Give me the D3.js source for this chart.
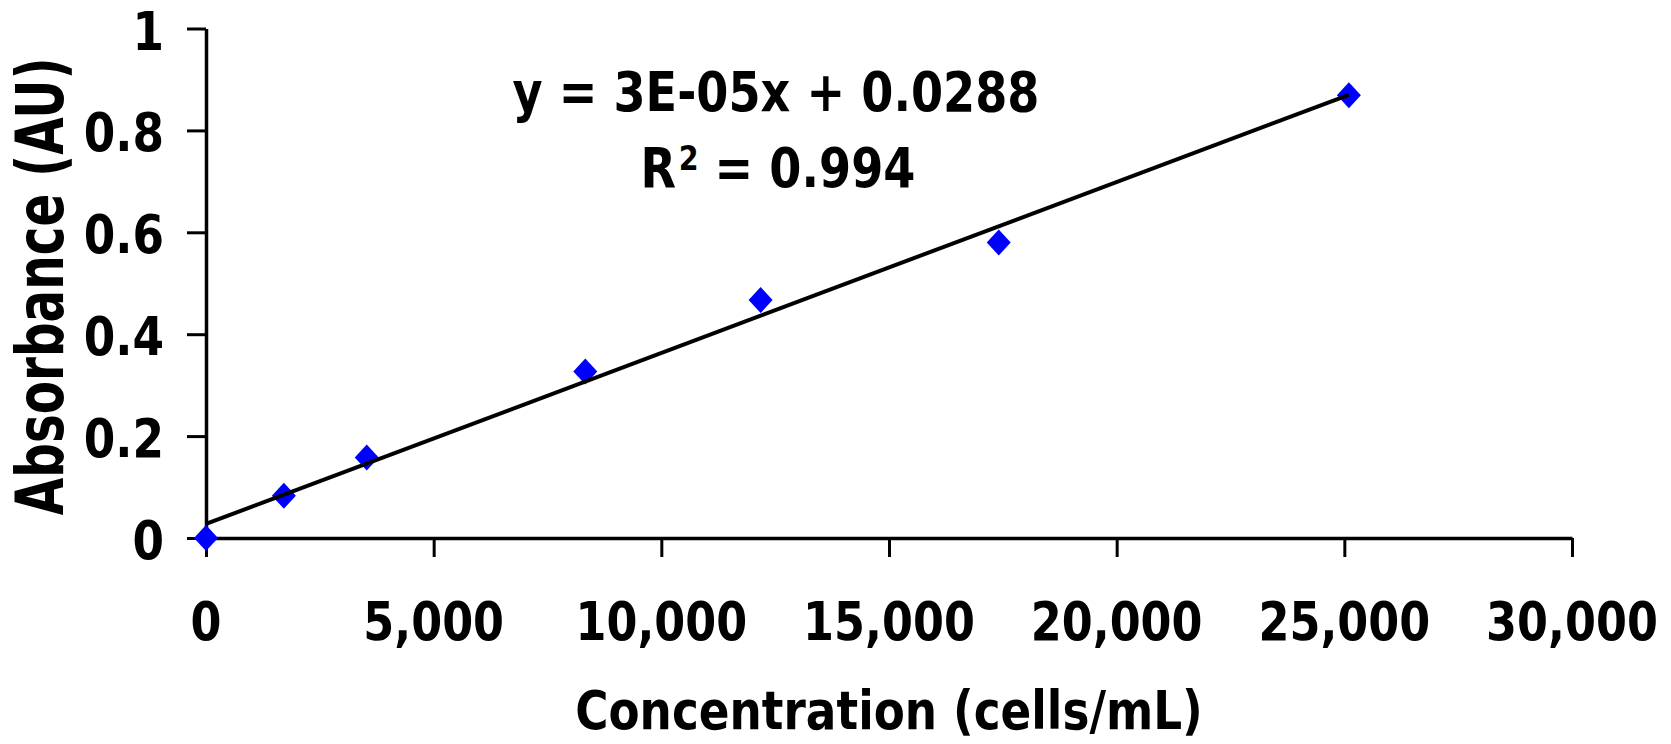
<!DOCTYPE html>
<html>
<head>
<meta charset="utf-8">
<script src="https://cdn.jsdelivr.net/npm/d3@7"></script>
<style>
  html, body { margin: 0; padding: 0; background: #fff; }
  svg { display: block; }
  text { font-family: Verdana, "DejaVu Sans", sans-serif; font-weight: bold; fill: #000; }
</style>
</head>
<body>
<svg id="chart" width="1671" height="744"></svg>
<script>
// standard curve readings
var concentration = [0, 1710, 3530, 8330, 12180, 17410, 25100];
var absorbance = [0, 0.083, 0.158, 0.327, 0.467, 0.580, 0.869];

var xTicks = [0, 5000, 10000, 15000, 20000, 25000, 30000];
var yTicks = [0, 0.2, 0.4, 0.6, 0.8, 1];
var yTickLabels = ["0", "0.2", "0.4", "0.6", "0.8", "1"];

var equationText = "y = 3E-05x + 0.0288";
var rSquaredText = "0.994";

var svg = d3.select("#chart");

var x = d3.scaleLinear().domain([0, 30000]).range([206, 1572]);
var y = d3.scaleLinear().domain([0, 1]).range([538, 28.5]);

// text is a bit narrow in the original, so squeeze it sideways
var squeeze = 0.84;

function label(parent, px, py, str, size, anchor, sx) {
    return parent.append("text")
        .attr("transform", "translate(" + px + "," + py + ") scale(" + sx + ",1)")
        .attr("text-anchor", anchor)
        .attr("font-size", size + "px")
        .text(str);
}

// axes
var xAxis = svg.append("g")
    .attr("transform", "translate(0," + y(0) + ")")
    .call(d3.axisBottom(x).tickValues(xTicks).tickSize(19).tickSizeOuter(0).tickFormat(""));

var yAxis = svg.append("g")
    .attr("transform", "translate(" + x(0) + ",0)")
    .call(d3.axisLeft(y).tickValues(yTicks).tickSize(19).tickSizeOuter(0).tickFormat(""));

[xAxis, yAxis].forEach(function (a) {
    a.select(".domain").attr("stroke", "#000").attr("stroke-width", 3.5);
    a.selectAll(".tick line").attr("stroke", "#000").attr("stroke-width", 3);
});

// tick labels
var fmt = d3.format(",");
xTicks.forEach(function (v) {
    label(svg, x(v), 640, fmt(v), 53, "middle", squeeze);
});
yTicks.forEach(function (v, i) {
    label(svg, 164, y(v) + 21, yTickLabels[i], 54, "end", squeeze);
});

// axis titles
label(svg, (x(0) + x(30000)) / 2, 729, "Concentration (cells/mL)", 54, "middle", squeeze);

svg.append("text")
    .attr("transform", "translate(63," + ((y(0) + y(1)) / 2 + 3) + ") rotate(-90) scale(0.745,1)")
    .attr("text-anchor", "middle")
    .attr("font-size", "65px")
    .text("Absorbance (AU)");

// data points
var points = concentration.map(function (c, i) { return [c, absorbance[i]]; });

svg.append("g")
    .selectAll("path")
    .data(points)
    .enter()
    .append("path")
    .attr("transform", function (d) { return "translate(" + x(d[0]) + "," + y(d[1]) + ")"; })
    .attr("d", "M0,-13L12,0L0,13L-12,0Z")
    .attr("fill", "#0000ff");

// least squares trendline, drawn from 0 to the last reading
var mx = d3.mean(concentration);
var my = d3.mean(absorbance);
var sxy = d3.sum(points, function (d) { return (d[0] - mx) * (d[1] - my); });
var sxx = d3.sum(points, function (d) { return (d[0] - mx) * (d[0] - mx); });
var slope = sxy / sxx;
var intercept = my - slope * mx;
var xMax = d3.max(concentration);

svg.append("line")
    .attr("x1", x(0))
    .attr("y1", y(intercept))
    .attr("x2", x(xMax))
    .attr("y2", y(intercept + slope * xMax))
    .attr("stroke", "#000")
    .attr("stroke-width", 4);

// equation and R squared
label(svg, 776, 111, equationText, 55, "middle", squeeze);

var r2 = svg.append("text")
    .attr("transform", "translate(778,187) scale(" + squeeze + ",1)")
    .attr("text-anchor", "middle")
    .attr("font-size", "55px");
r2.append("tspan").text("R");
r2.append("tspan").attr("font-size", "34px").attr("dx", 3).attr("dy", -17).text("2");
r2.append("tspan").attr("dy", 17).text(" = " + rSquaredText);
</script>
</body>
</html>
